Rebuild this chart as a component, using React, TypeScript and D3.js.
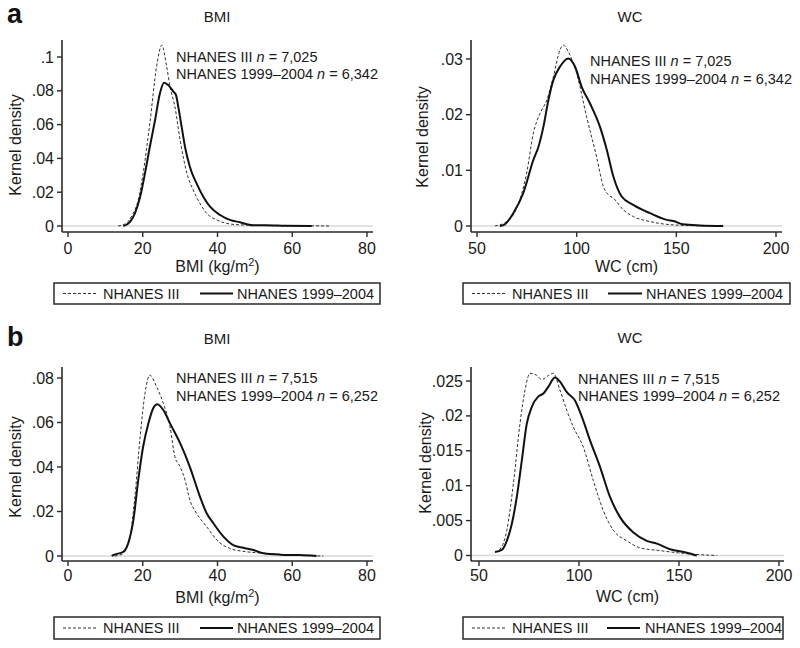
import React from "react";
import * as d3 from "d3";

const FONT = "'Liberation Sans', Arial, Helvetica, sans-serif";

// ---- Data ----
// Panel a, BMI
const bmiA_III: [number, number][] = [
  [13.4, 0], [15.5, 0.0015], [17.2, 0.0065], [18.8, 0.0154], [20.1, 0.0312], [21.9, 0.0608],
  [23.7, 0.0943], [25.1, 0.107], [26.4, 0.0943], [27.3, 0.0824], [28.6, 0.0706], [30, 0.0509],
  [31.8, 0.0312], [33.5, 0.0213], [35.3, 0.0134], [37.1, 0.0075], [39.8, 0.0036], [43.3, 0.0012],
  [47, 0.0006], [52, 0.0003], [58, 0.0001], [64, 0.0001], [70, 0],
];
const bmiA_9904: [number, number][] = [
  [14.8, 0], [16.6, 0.0025], [17.9, 0.0075], [19.3, 0.0173], [20.6, 0.0312], [21.9, 0.0469],
  [23.3, 0.0627], [24.6, 0.0785], [25.7, 0.0848], [26.8, 0.0834], [28.2, 0.0795], [28.9, 0.0775],
  [29.5, 0.0706], [30.4, 0.0588], [31.3, 0.0469], [32.6, 0.0351], [34.4, 0.0252], [36.2, 0.0173],
  [38, 0.0114], [40.7, 0.0065], [43.3, 0.0036], [46, 0.0022], [49.5, 0.0005], [53, 0.0005],
  [58, 0.0002], [65.2, 0],
];
// Panel a, WC
const wcA_III: [number, number][] = [
  [59, 0], [64.9, 0.0008], [69.9, 0.0032], [74.9, 0.0095], [78.3, 0.0167], [81.6, 0.0202],
  [85, 0.0226], [88.3, 0.0268], [91.6, 0.0316], [93.3, 0.0325], [95.8, 0.0313], [100, 0.0274],
  [105, 0.0196], [110, 0.0124], [113.4, 0.0071], [115.9, 0.0056], [118.4, 0.005], [123.4, 0.0029],
  [128.4, 0.0017], [136.8, 0.0008], [145, 0.0003], [155, 0.0001], [165, 0],
];
const wcA_9904: [number, number][] = [
  [61.5, 0], [64, 0.0003], [68.2, 0.0023], [73.2, 0.0059], [78.3, 0.0119], [80.8, 0.0142],
  [83.3, 0.0178], [85.8, 0.0226], [88.3, 0.0262], [91.6, 0.0286], [95.8, 0.0301], [99.2, 0.0286],
  [102.5, 0.025], [106.7, 0.022], [111.7, 0.0178], [115.1, 0.0137], [118.4, 0.0089], [122.6, 0.0053],
  [128.4, 0.0038], [136.8, 0.0023], [145.2, 0.0011], [148.5, 0.0009], [153.5, 0.0003], [162, 0.0001],
  [173.5, 0],
];
// Panel b, BMI
const bmiB_III: [number, number][] = [
  [12.5, 0], [14.5, 0.0008], [15.6, 0.0035], [16.6, 0.0087], [17.9, 0.0267], [19.3, 0.0536],
  [20.6, 0.0731], [21.9, 0.0813], [23.7, 0.0761], [25.5, 0.0686], [27.3, 0.0581], [28.6, 0.0446],
  [30, 0.0401], [31.3, 0.0342], [32.6, 0.0252], [34.4, 0.0192], [37.1, 0.0132], [39.8, 0.0072],
  [43.3, 0.0034], [47.8, 0.0019], [53.1, 0.0012], [60, 0.0004], [68.3, 0],
];
const bmiB_9904: [number, number][] = [
  [11.7, 0], [12.1, 0.0004], [14.8, 0.0019], [16.1, 0.0057], [17.5, 0.0162], [18.8, 0.0342],
  [20.1, 0.0491], [21.5, 0.0596], [22.8, 0.0664], [23.9, 0.0682], [25.5, 0.0656], [27.3, 0.0596],
  [30, 0.0507], [32.6, 0.0401], [35.3, 0.0267], [37.1, 0.0192], [38.9, 0.0147], [41.6, 0.0087],
  [44.2, 0.0049], [46.9, 0.0037], [49.6, 0.0027], [52.3, 0.0012], [56.8, 0.0006], [62, 0.0004],
  [66.5, 0],
];
// Panel b, WC
const wcB_III: [number, number][] = [
  [58, 0.0005], [60.5, 0.0009], [63.9, 0.0036], [67.2, 0.0103], [70.5, 0.0189], [73, 0.0237],
  [75.5, 0.0261], [78.9, 0.0258], [81.4, 0.0252], [84.7, 0.0258], [87.2, 0.0261], [90.5, 0.0237],
  [93.9, 0.0208], [97.2, 0.0184], [102.2, 0.0155], [107.2, 0.0107], [112.2, 0.0064], [117.2, 0.0036],
  [123.9, 0.0021], [130.5, 0.0011], [140.5, 0.0007], [152.2, 0.0003], [168.9, 0],
];
const wcB_9904: [number, number][] = [
  [58, 0.0005], [61.4, 0.0008], [63.9, 0.0021], [66.4, 0.0045], [68.9, 0.0084], [71.4, 0.0136],
  [73.9, 0.0189], [76.4, 0.0213], [79.7, 0.0228], [82.2, 0.0232], [84.7, 0.0242], [88, 0.0255],
  [90.5, 0.0249], [93.9, 0.0234], [98, 0.0222], [101.4, 0.0199], [105.5, 0.0165], [110.5, 0.0127],
  [115.5, 0.0084], [120.5, 0.0055], [127.2, 0.0033], [133.9, 0.0021], [138.9, 0.0017], [145.5, 0.0009],
  [153.9, 0.0004], [158.9, 0],
];

const bmiTicksX = [0, 20, 40, 60, 80];
const wcTicksX = [50, 100, 150, 200];
const yTicksBmiA = [0, 0.02, 0.04, 0.06, 0.08, 0.1];
const yTicksWcA = [0, 0.01, 0.02, 0.03];
const yTicksBmiB = [0, 0.02, 0.04, 0.06, 0.08];
const yTicksWcB = [0, 0.005, 0.01, 0.015, 0.02, 0.025];

const seriesNames = ["NHANES III", "NHANES 1999\u20132004"];
const nA = ["7,025", "6,342"];
const nB = ["7,515", "6,252"];

const fmtY = (d: number) => (d === 0 ? "0" : String(d).replace(/^0/, ""));

type PanelProps = {
  xDomain: [number, number];
  xRange: [number, number];
  yDomain: [number, number];
  yRange: [number, number];
  xTicks: number[];
  yTicks: number[];
  axisLeft: number;
  axisRight: number;
  axisTop: number;
  axisBottom: number;
  title: string;
  titleX: number;
  titleY: number;
  xTitle: React.ReactNode;
  xTitleY: number;
  tickLabelY: number;
  yLabelX: number;
  yLabelY: number;
  annotX: number;
  annotY1: number;
  annotY2: number;
  ns: string[];
  legend: { x0: number; x1: number; y0: number; y1: number; d0: number; d1: number; t1: number; s0: number; s1: number; t2: number };
  dashed: [number, number][];
  solid: [number, number][];
};

function Panel(p: PanelProps) {
  const x = d3.scaleLinear().domain(p.xDomain).range(p.xRange);
  const y = d3.scaleLinear().domain(p.yDomain).range(p.yRange);
  const line = d3
    .line<[number, number]>()
    .x((d) => x(d[0]))
    .y((d) => y(d[1]))
    .curve(d3.curveMonotoneX);
  const L = p.legend;
  const ly = (L.y0 + L.y1) / 2;
  return (
    <g fontFamily={FONT} fill="#1a1a1a">
      <text x={p.titleX} y={p.titleY} textAnchor="middle" fontSize={15}>
        {p.title}
      </text>
      {/* zero reference line */}
      <line x1={p.axisLeft} x2={p.axisRight} y1={y(0)} y2={y(0)} stroke="#d9d9d9" strokeWidth={1.5} />
      {/* axes */}
      <line x1={p.axisLeft} x2={p.axisLeft} y1={p.axisTop} y2={p.axisBottom} stroke="#2a2a2a" strokeWidth={1.6} />
      <line x1={p.axisLeft} x2={p.axisRight} y1={p.axisBottom} y2={p.axisBottom} stroke="#2a2a2a" strokeWidth={1.6} />
      {p.yTicks.map((t) => (
        <g key={"y" + t}>
          <line x1={p.axisLeft - 5} x2={p.axisLeft} y1={y(t)} y2={y(t)} stroke="#2a2a2a" strokeWidth={1.4} />
          <text x={p.axisLeft - 8} y={y(t) + 5.5} textAnchor="end" fontSize={16}>
            {fmtY(t)}
          </text>
        </g>
      ))}
      {p.xTicks.map((t) => (
        <g key={"x" + t}>
          <line x1={x(t)} x2={x(t)} y1={p.axisBottom} y2={p.axisBottom + 5} stroke="#2a2a2a" strokeWidth={1.4} />
          <text x={x(t)} y={p.tickLabelY} textAnchor="middle" fontSize={16}>
            {t}
          </text>
        </g>
      ))}
      <text x={(p.axisLeft + p.axisRight) / 2} y={p.xTitleY} textAnchor="middle" fontSize={16}>
        {p.xTitle}
      </text>
      <text
        transform={`translate(${p.yLabelX},${p.yLabelY}) rotate(-90)`}
        textAnchor="middle"
        fontSize={16}
        dy="0.35em"
      >
        Kernel density
      </text>
      {/* curves */}
      <path d={line(p.dashed) || ""} fill="none" stroke="#333" strokeWidth={1} strokeDasharray="3,2" />
      <path d={line(p.solid) || ""} fill="none" stroke="#111" strokeWidth={2} strokeLinejoin="round" />
      {/* annotation */}
      <text x={p.annotX} y={p.annotY1} fontSize={14.5}>
        {seriesNames[0]} <tspan fontStyle="italic">n</tspan> = {p.ns[0]}
      </text>
      <text x={p.annotX} y={p.annotY2} fontSize={14.5}>
        {seriesNames[1]} <tspan fontStyle="italic">n</tspan> = {p.ns[1]}
      </text>
      {/* legend */}
      <rect x={L.x0} y={L.y0} width={L.x1 - L.x0} height={L.y1 - L.y0} fill="#fff" stroke="#2a2a2a" strokeWidth={1.5} />
      <line x1={L.d0} x2={L.d1} y1={ly} y2={ly} stroke="#333" strokeWidth={1} strokeDasharray="3,2" />
      <text x={L.t1} y={ly + 5} fontSize={14.5}>
        {seriesNames[0]}
      </text>
      <line x1={L.s0} x2={L.s1} y1={ly} y2={ly} stroke="#111" strokeWidth={2} />
      <text x={L.t2} y={ly + 5} fontSize={14.5}>
        {seriesNames[1]}
      </text>
    </g>
  );
}

const bmiTitle = (
  <>
    BMI (kg/m<tspan dy={-6} fontSize={11}>2</tspan>
    <tspan dy={6}>)</tspan>
  </>
);

export default function App() {
  return (
    <svg width={800} height={648} style={{ position: "absolute", left: 0, top: 0, background: "#fff" }}>
      <rect width={800} height={648} fill="#fff" />
      <text x={7} y={23} fontFamily={FONT} fontWeight="bold" fontSize={27} fill="#111">a</text>
      <text x={7} y={346} fontFamily={FONT} fontWeight="bold" fontSize={27} fill="#111">b</text>
      <Panel
        xDomain={[0, 80]} xRange={[68, 367]} yDomain={[0, 0.1]} yRange={[226, 57]}
        xTicks={bmiTicksX} yTicks={yTicksBmiA}
        axisLeft={62} axisRight={373} axisTop={40} axisBottom={232}
        title="BMI" titleX={217} titleY={22}
        xTitle={bmiTitle} xTitleY={272} tickLabelY={254}
        yLabelX={15} yLabelY={145}
        annotX={176} annotY1={62} annotY2={79} ns={nA}
        legend={{ x0: 54, x1: 380, y0: 283, y1: 304, d0: 63, d1: 97, t1: 103, s0: 200, s1: 233, t2: 237 }}
        dashed={bmiA_III} solid={bmiA_9904}
      />
      <Panel
        xDomain={[50, 200]} xRange={[477, 776]} yDomain={[0, 0.03]} yRange={[226, 59]}
        xTicks={wcTicksX} yTicks={yTicksWcA}
        axisLeft={471} axisRight={782} axisTop={40} axisBottom={232}
        title="WC" titleX={630} titleY={22}
        xTitle="WC (cm)" xTitleY={272} tickLabelY={254}
        yLabelX={422} yLabelY={137}
        annotX={590} annotY1={66} annotY2={84} ns={nA}
        legend={{ x0: 463, x1: 790, y0: 283, y1: 304, d0: 472, d1: 507, t1: 512, s0: 608, s1: 642, t2: 646 }}
        dashed={wcA_III} solid={wcA_9904}
      />
      <Panel
        xDomain={[0, 80]} xRange={[68, 367]} yDomain={[0, 0.08]} yRange={[556, 378]}
        xTicks={bmiTicksX} yTicks={yTicksBmiB}
        axisLeft={62} axisRight={373} axisTop={367} axisBottom={561}
        title="BMI" titleX={217} titleY={344}
        xTitle={bmiTitle} xTitleY={603} tickLabelY={581}
        yLabelX={15} yLabelY={467}
        annotX={176} annotY1={383} annotY2={401} ns={nB}
        legend={{ x0: 54, x1: 380, y0: 617, y1: 639, d0: 63, d1: 97, t1: 103, s0: 200, s1: 233, t2: 237 }}
        dashed={bmiB_III} solid={bmiB_9904}
      />
      <Panel
        xDomain={[50, 200]} xRange={[479, 779]} yDomain={[0, 0.025]} yRange={[555.5, 381]}
        xTicks={wcTicksX} yTicks={yTicksWcB}
        axisLeft={471} axisRight={784} axisTop={367} axisBottom={561}
        title="WC" titleX={630} titleY={343}
        xTitle="WC (cm)" xTitleY={602} tickLabelY={581}
        yLabelX={425} yLabelY={463}
        annotX={578} annotY1={384} annotY2={401} ns={nB}
        legend={{ x0: 463, x1: 783, y0: 617, y1: 639, d0: 472, d1: 507, t1: 512, s0: 607, s1: 640, t2: 645 }}
        dashed={wcB_III} solid={wcB_9904}
      />
    </svg>
  );
}
